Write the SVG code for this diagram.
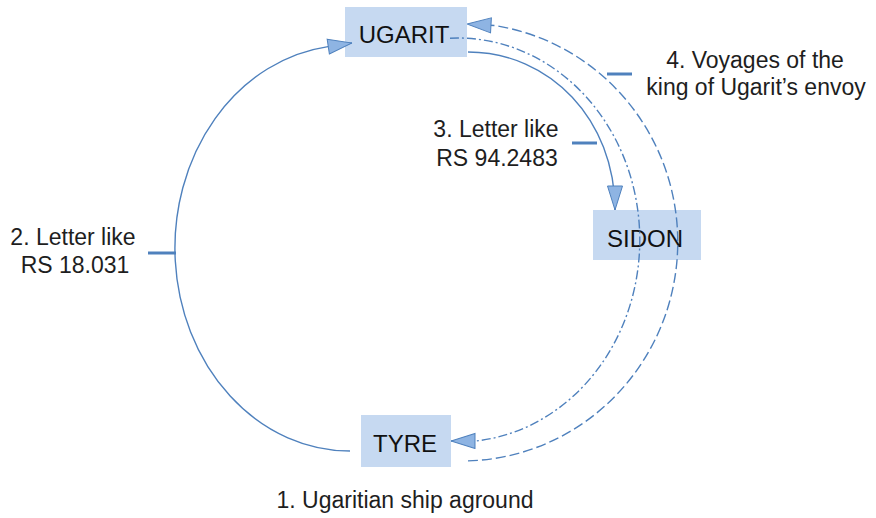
<svg xmlns="http://www.w3.org/2000/svg" width="876" height="518" viewBox="0 0 876 518">
  <style>
    .box { fill: #c6d9f1; }
    .node-label { font-family: "Liberation Sans", Arial, sans-serif; font-size: 24px; fill: #111; text-anchor: middle; }
    .label { font-family: "Liberation Sans", Arial, sans-serif; font-size: 23px; fill: #1e1e1e; text-anchor: middle; }
    .link { fill: none; stroke: #4f81bd; stroke-width: 1.4; }
    .dashdot { stroke-dasharray: 9 3 2 3; }
    .dash { stroke-dasharray: 10 4; }
    .tick { stroke: #4f81bd; stroke-width: 3; }
  </style>
  <defs>
    <marker id="arrow" viewBox="0 0 25 17" refX="25" refY="8.5" markerWidth="25" markerHeight="17" markerUnits="userSpaceOnUse" orient="auto">
      <path d="M1 1 L25 8.5 L1 16 Z" fill="#8eb4e3" stroke="#4f81bd" stroke-width="1"/>
    </marker>
  </defs>

  <rect width="876" height="518" fill="#ffffff"/>

  <!-- places -->
  <g id="ugarit">
    <rect class="box" x="345" y="7" width="122" height="50"/>
    <text class="node-label" x="404" y="43">UGARIT</text>
  </g>
  <g id="sidon">
    <rect class="box" x="593" y="210" width="108" height="50"/>
    <text class="node-label" x="645" y="247">SIDON</text>
  </g>
  <g id="tyre">
    <rect class="box" x="361" y="415" width="90" height="52"/>
    <text class="node-label" x="405" y="452">TYRE</text>
  </g>

  <!-- routes between the cities -->
  <g id="connectors">
    <!-- 2. Tyre to Ugarit, around the west -->
    <path class="link" d="M350 451 A175 203 0 0 1 328 46.6 L352 43" marker-end="url(#arrow)"/>
    <!-- 3. Ugarit to Sidon -->
    <path class="link" d="M468 52 C550 52 615 120 615 210" marker-end="url(#arrow)"/>
    <!-- 4. envoy voyages: Ugarit to Tyre and back -->
    <path class="link dashdot" d="M450 38.2 A182 202 0 0 1 476 441 L451 441" marker-end="url(#arrow)"/>
    <path class="link dash" d="M468 460.9 A216 219 0 0 0 495 25.6 L467 24" marker-end="url(#arrow)"/>
    <!-- label leaders -->
    <line class="tick" x1="148" y1="253" x2="176" y2="253"/>
    <line class="tick" x1="572" y1="143" x2="597" y2="143"/>
    <line class="tick" x1="607" y1="74" x2="632" y2="74"/>
  </g>

  <!-- captions -->
  <g id="captions">
    <text class="label" x="73" y="245">2. Letter like<tspan x="75" y="273">RS 18.031</tspan></text>
    <text class="label" x="496" y="137">3. Letter like<tspan x="497" y="166">RS 94.2483</tspan></text>
    <text class="label" x="755" y="68">4. Voyages of the<tspan x="756" y="95">king of Ugarit’s envoy</tspan></text>
    <text class="label" x="405" y="508">1. Ugaritian ship aground</text>
  </g>
</svg>
